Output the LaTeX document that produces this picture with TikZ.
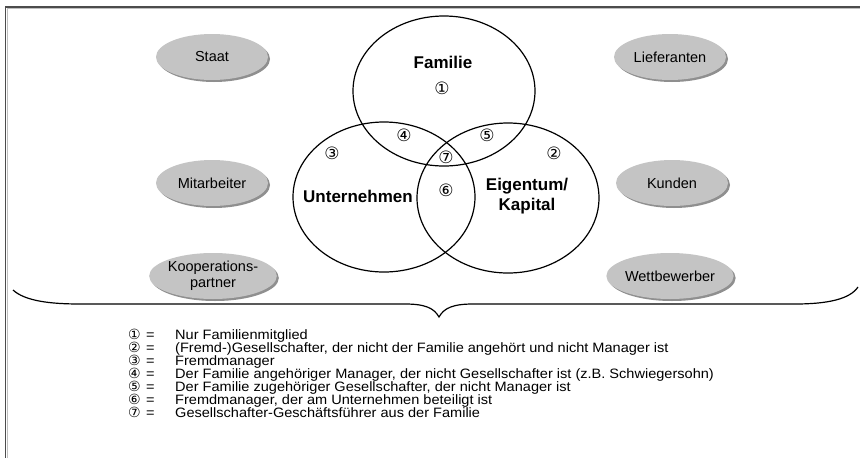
\documentclass[tikz,border=0pt]{standalone}
\usepackage{fontspec}
\setmainfont{Liberation Sans}
\newfontfamily\symfont{DejaVu Sans}
\newfontfamily\legfont[FakeStretch=1.07]{Liberation Sans}
\usetikzlibrary{shapes.geometric,shadows}
\begin{document}
\begin{tikzpicture}[x=1pt,y=-1pt,
  venn/.style={ellipse, draw=black, line width=1.2pt, minimum width=182pt, minimum height=150pt, inner sep=0pt},
  grp/.style={ellipse, fill=black!23, draw=none, minimum width=112pt, minimum height=46pt, inner sep=0pt, align=center, font=\fontsize{14.5}{16}\selectfont, drop shadow={shadow xshift=2pt, shadow yshift=-2pt, fill=black!55, opacity=0.8}},
  vlabel/.style={font=\fontsize{17}{20}\selectfont\bfseries, align=center, inner sep=0pt},
  num/.style={font=\symfont\fontsize{17}{18}\selectfont, inner sep=0pt},
  lnum/.style={font=\symfont\fontsize{14}{14}\selectfont, inner sep=0pt, anchor=base west},
  ltext/.style={font=\legfont\fontsize{13.6}{14}\selectfont, inner sep=0pt, anchor=base west},
  frameline/.style={draw=black!70, line width=1.3pt},
  framelight/.style={draw=black!25, line width=1pt},
  bracestyle/.style={draw=black, line width=1.2pt}
]
\useasboundingbox (0,0) rectangle (860,458);
\fill[white] (0,0) rectangle (860,458);
% frame
\draw[framelight] (860,8.8) -- (7.3,8.8) -- (7.3,458);
\draw[frameline] (860,7) -- (5.5,7) -- (5.5,458);

% Venn ellipses
\node[venn] (fam) at (444,91) {};
\node[venn] (unt) at (384,197) {};
\node[venn] (eig) at (508,198) {};

\node[vlabel] (tfam) at (443,62) {Familie};
\node[vlabel] (tunt) at (358,196) {Unternehmen};
\node[vlabel] (teig) at (527,196) {Eigentum/\\Kapital};

\node[num] (v1) at (442,88) {①};
\node[num] (v2) at (554,153) {②};
\node[num] (v3) at (332,153) {③};
\node[num] (v4) at (404,135) {④};
\node[num] (v5) at (487,135) {⑤};
\node[num] (v6) at (446,190) {⑥};
\node[num] (v7) at (446,157) {⑦};

% stakeholder ellipses
\node[grp] (staat) at (212,57) {Staat};
\node[grp] (mit) at (212,183) {Mitarbeiter};
\node[grp] (koop) at (213,276) {Kooperations-\\partner};
\node[grp] (lief) at (670,57) {Lieferanten};
\node[grp] (kund) at (672,183) {Kunden};
\node[grp] (wett) at (670,276) {Wettbewerber};

% brace
\draw[bracestyle] (13,290) .. controls (25,301) and (50,304) .. (80,304) -- (405,304)
  .. controls (425,304) and (434,308) .. (439,317)
  .. controls (444,308) and (453,304) .. (473,304) -- (795,304)
  .. controls (828,304) and (850,299) .. (858,287);

% legend
\foreach \i/\s/\t in {1/①/Nur Familienmitglied,
  2/②/{(Fremd-)Gesellschafter, der nicht der Familie angehört und nicht Manager ist},
  3/③/Fremdmanager,
  4/④/{Der Familie angehöriger Manager, der nicht Gesellschafter ist (z.B. Schwiegersohn)},
  5/⑤/{Der Familie zugehöriger Gesellschafter, der nicht Manager ist},
  6/⑥/{Fremdmanager, der am Unternehmen beteiligt ist},
  7/⑦/{Gesellschafter-Geschäftsführer aus der Familie}}{
  \node[lnum] (n\i) at (128,339+13*\i-13) {\s};
  \node[ltext] (e\i) at (146,339+13*\i-13) {=};
  \node[ltext] (l\i) at (175,339+13*\i-13) {\t};
}
\end{tikzpicture}
\end{document}
